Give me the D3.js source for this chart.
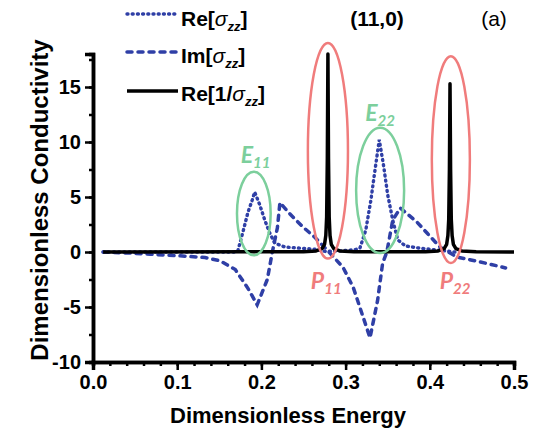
<!DOCTYPE html>
<html><head><meta charset="utf-8">
<script src="https://cdn.jsdelivr.net/npm/d3@7"></script>
<style>body{margin:0;background:#fff}svg{display:block}</style>
</head><body>
<script>
// ---- data ----
const energyReSigma = [0.012,0.127,0.169,0.172,0.178,0.184,0.189,0.192,0.198,0.204,0.210,0.216,0.228,0.246,0.264,0.276,0.293,0.311,0.317,0.324,0.330,0.335,0.340,0.345,0.350,0.356,0.362,0.371,0.388,0.406,0.418,0.430];
const reSigma       = [0,    0,    0,    0.1,  1.8,  3.6,  4.7,  5.45, 4.3,  2.9,  1.7,  0.8,  0.45, 0.35, 0.25, 0.05, 0.1,  0.2,  0.35, 2.0,  4.7,  7.5,  10.2, 7.9,  5.2,  2.9,  1.1,  0.55, 0.35, 0.2,  0.1,  0];
const energyImSigma = [0.012,0.044,0.068,0.103,0.133,0.151,0.169,0.184,0.195,0.207,0.213,0.219,0.222,0.234,0.249,0.264,0.279,0.297,0.309,0.319,0.329,0.338,0.344,0.349,0.356,0.365,0.385,0.397,0.412,0.432,0.460,0.490];
const imSigma       = [0,   -0.1, -0.2, -0.35,-0.5, -0.8, -1.6, -3.3, -4.8, -2.5,  0,    2.2,  4.5,  3.45, 2.3,  1.3,  0.1, -1.4, -3.2, -5.5, -7.8, -4.4, -1.0,  0,    2.9,  4.0,  2.7,  1.7,  0.45,-0.45,-0.9, -1.45];
const energyReInv   = [0.012,0.250,0.265,0.272,0.275,0.2765,0.2775,0.2783,0.279,0.2797,0.2805,0.2815,0.283,0.286,0.293,0.310,0.395,0.410,0.417,0.420,0.4215,0.4225,0.4233,0.424,0.4247,0.4255,0.4265,0.428,0.431,0.438,0.455,0.500];
const reInvSigma    = [0,    0.02, 0.1,  0.3,  0.7,  1.5,   3.2,   8.5,   18,   8.5,   3.2,   1.5,   0.7,  0.3,  0.1,  0.02, 0.02, 0.1,  0.3,  0.7,  1.5,   3.0,   7.5,   15.3,  7.5,   3.0,   1.5,   0.7,  0.3,  0.1,  0.02, 0];

const xTicks = [0, 0.1, 0.2, 0.3, 0.4, 0.5];
const xTickLabels = ["0.0","0.1","0.2","0.3","0.4","0.5"];
const yTicks = [-10, -5, 0, 5, 10, 15];
const yTickLabels = ["-10","-5","0","5","10","15"];

// annotations in data units: [centerE, centerV, radiusE, radiusV]
const redEllipses   = [[0.279, 9.2, 0.0238, 9.8],[0.425, 8.4, 0.0226, 9.4]];
const greenEllipses = [[0.191, 3.5, 0.020, 3.8],[0.341, 5.6, 0.0285, 5.7]];
const peakLabels = [["E","11",0.193,8.8,"green"],["E","22",0.341,12.6,"green"],["P","11",0.277,-2.6,"red"],["P","22",0.430,-2.6,"red"]];

// ---- drawing ----
const W = 538, H = 435;
const svg = d3.select("body").append("svg").attr("width", W).attr("height", H);
const x = d3.scaleLinear().domain([0, 0.5]).range([93, 514]);
const y = d3.scaleLinear().domain([-10, 18]).range([362, 54]);
const blue = "#2f3fa6", green = "#7ccf9c", red = "#f07c7c";
const font = "'Liberation Sans', Arial, sans-serif";

const line = d3.line().x(d => x(d[0])).y(d => y(d[1]));
const zip = (a, b) => a.map((v, i) => [v, b[i]]);

svg.append("path").datum(zip(energyImSigma, imSigma)).attr("d", line)
  .attr("fill","none").attr("stroke",blue).attr("stroke-width",3.5).attr("stroke-dasharray","5 6")
  .attr("stroke-linecap","round");
svg.append("path").datum(zip(energyReSigma, reSigma)).attr("d", line)
  .attr("fill","none").attr("stroke",blue).attr("stroke-width",3.4).attr("stroke-dasharray","1 4.2")
  .attr("stroke-linecap","round");
svg.append("path").datum(zip(energyReInv, reInvSigma)).attr("d", line)
  .attr("fill","none").attr("stroke","#000").attr("stroke-width",3.5).attr("stroke-linejoin","round");

// ellipses
const ell = (arr, col) => svg.selectAll(null).data(arr).enter().append("ellipse")
  .attr("cx", d => x(d[0])).attr("cy", d => y(d[1]))
  .attr("rx", d => x(d[2]) - x(0)).attr("ry", d => y(0) - y(d[3]))
  .attr("fill","none").attr("stroke",col).attr("stroke-width",2.5);
ell(redEllipses, red);
ell(greenEllipses, green);

// peak labels
const pl = svg.selectAll(null).data(peakLabels).enter().append("text")
  .attr("x", d => x(d[2])).attr("y", d => y(d[3]) + 8)
  .attr("text-anchor","middle").attr("font-family","Lato, 'Open Sans', sans-serif")
  .attr("font-weight","bold").attr("font-style","italic").attr("font-size",23)
  .attr("fill", d => d[4] === "green" ? green : red);
pl.append("tspan").text(d => d[0]);
pl.append("tspan").attr("font-size",15).attr("dy",5).text(d => d[1]);

// axes
const gx = svg.append("g").attr("transform",`translate(0,${y(-10)})`);
gx.call(d3.axisBottom(x).tickValues(d3.range(0, 0.5001, 0.02)).tickSize(4).tickFormat(""));
gx.call(g => g.append("g").call(d3.axisBottom(x).tickValues(xTicks).tickSize(8).tickFormat((d,i) => xTickLabels[i])));
const gy = svg.append("g").attr("transform",`translate(${x(0)},0)`);
gy.call(d3.axisLeft(y).tickValues(d3.range(-10, 18.01, 2.5)).tickSize(4).tickFormat(""));
gy.call(g => g.append("g").call(d3.axisLeft(y).tickValues(yTicks).tickSize(8).tickFormat((d,i) => yTickLabels[i])));
svg.selectAll(".domain").attr("stroke","#000").attr("stroke-width",3.5);
svg.selectAll(".tick line").attr("stroke","#000").attr("stroke-width",2.5);
svg.selectAll(".tick text").attr("font-family",font).attr("font-weight","bold").attr("font-size",20).attr("fill","#000");
gx.selectAll(".tick text").attr("dy","0.8em");
gy.selectAll(".tick text").attr("dx","-0.05em");

// axis titles
svg.append("text").attr("x", 288).attr("y", 423).attr("text-anchor","middle")
  .attr("font-family",font).attr("font-weight","bold").attr("font-size",22).text("Dimensionless Energy");
svg.append("text").attr("transform","translate(48,200) rotate(-90)").attr("text-anchor","middle")
  .attr("font-family",font).attr("font-weight","bold").attr("font-size",24).text("Dimensionless Conductivity");

// legend
const legend = [["Re[", "]", "1 4.2", 3.4, blue, 14, 26], ["Im[", "]", "5 6", 3.5, blue, 52, 63], ["Re[1/", "]", null, 3.5, "#000", 91, 101]];
legend.forEach(([pre, post, dash, sw, col, ly, ty]) => {
  const ln = svg.append("line").attr("x1",127).attr("x2",178).attr("y1",ly).attr("y2",ly)
    .attr("stroke",col).attr("stroke-width",sw);
  if (dash) ln.attr("stroke-dasharray",dash).attr("stroke-linecap","round");
  const t = svg.append("text").attr("x",181).attr("y",ty).attr("font-family",font)
    .attr("font-weight","bold").attr("font-size",21);
  t.append("tspan").text(pre);
  t.append("tspan").attr("font-style","italic").attr("font-weight","normal").text("σ");
  t.append("tspan").attr("font-style","italic").attr("font-size",13).attr("dy",5).text("zz");
  t.append("tspan").attr("dy",-5).text(post);
});

svg.append("text").attr("x",377).attr("y",26).attr("text-anchor","middle").attr("font-family",font)
  .attr("font-weight","bold").attr("font-size",21).text("(11,0)");
svg.append("text").attr("x",494).attr("y",26).attr("text-anchor","middle").attr("font-family",font)
  .attr("font-size",21).text("(a)");
</script>
</body></html>
